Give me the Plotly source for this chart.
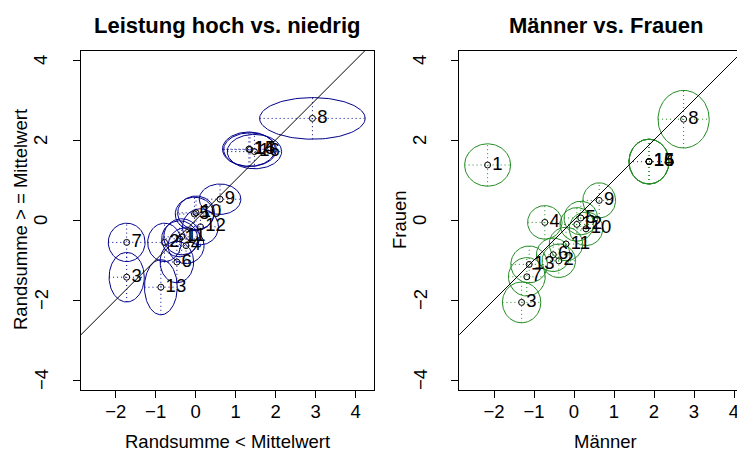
import numpy as np
import plotly.graph_objects as go

# ---------------- data ----------------
items = [str(i) for i in range(1, 17)]

# Panel 1: Leistung hoch vs. niedrig (x = Randsumme < Mittelwert, y = Randsumme >= Mittelwert)
lh_x  = [-0.40, -0.78, -1.725, -0.24, -0.03, -0.47, -1.725, 2.92, 0.61, 0.01, -0.35, 0.12, -0.87, 1.33, 1.36, 1.47]
lh_y  = [-0.47, -0.56, -1.43, -0.64, 0.15, -1.05, -0.56, 2.54, 0.52, 0.18, -0.42, -0.17, -1.68, 1.77, 1.76, 1.71]
lh_rx = [0.45, 0.42, 0.44, 0.45, 0.48, 0.42, 0.46, 1.32, 0.52, 0.46, 0.45, 0.45, 0.41, 0.66, 0.66, 0.68]
lh_ry = [0.45, 0.48, 0.62, 0.45, 0.42, 0.52, 0.48, 0.52, 0.38, 0.42, 0.45, 0.45, 0.69, 0.43, 0.42, 0.43]

# Panel 2: Männer vs. Frauen
mf_x  = [-2.16, -0.38, -1.31, -0.73, 0.17, -0.52, -1.18, 2.74, 0.63, 0.30, -0.20, 0.07, -1.12, 1.875, 1.875, 1.875]
mf_y  = [1.375, -1.02, -2.06, -0.06, 0.05, -0.87, -1.42, 2.52, 0.49, -0.22, -0.60, -0.11, -1.11, 1.46, 1.46, 1.46]
mf_rx = [0.575, 0.42, 0.48, 0.43, 0.42, 0.42, 0.46, 0.64, 0.41, 0.42, 0.42, 0.42, 0.46, 0.50, 0.50, 0.50]
mf_ry = [0.53, 0.42, 0.51, 0.42, 0.42, 0.42, 0.48, 0.72, 0.44, 0.42, 0.42, 0.42, 0.46, 0.56, 0.56, 0.56]

x_ticks = [-2, -1, 0, 1, 2, 3, 4]
y_ticks = [-4, -2, 0, 2, 4]
y_ticklabels = ["\u22124", "\u22122", "0", "2", "4"]
diag = [-10, 10]

titles = ["Leistung hoch vs. niedrig", "Männer vs. Frauen"]
xlabels = ["Randsumme < Mittelwert", "Männer"]
ylabels = ["Randsumme > = Mittelwert", "Frauen"]

FONT = "Liberation Sans, Arial, Helvetica, sans-serif"
OFF = 8  # default page body margin
W, H = 745 - OFF, 459 - OFF

fig = go.Figure()


def add_panel(xs, ys, rxs, rys, color, xa, ya):
    t = np.linspace(0, 2 * np.pi, 120)
    for cx, cy, rx, ry in zip(xs, ys, rxs, rys):
        fig.add_trace(go.Scatter(x=cx + rx * np.cos(t), y=cy + ry * np.sin(t), mode="lines",
                                 line=dict(color=color, width=1), xaxis=xa, yaxis=ya,
                                 hoverinfo="skip"))
    cxs, cys = [], []
    for cx, cy, rx, ry in zip(xs, ys, rxs, rys):
        cxs += [cx - rx, cx + rx, None, cx, cx, None]
        cys += [cy, cy, None, cy - ry, cy + ry, None]
    fig.add_trace(go.Scatter(x=cxs, y=cys, mode="lines",
                             line=dict(color=color, width=1, dash="1px,3px"),
                             xaxis=xa, yaxis=ya, hoverinfo="skip"))
    fig.add_trace(go.Scatter(x=diag, y=diag, mode="lines", line=dict(color="black", width=1),
                             xaxis=xa, yaxis=ya, hoverinfo="skip"))
    fig.add_trace(go.Scatter(x=xs, y=ys, mode="markers+text", text=items,
                             textposition="middle right",
                             textfont=dict(family=FONT, size=18.5, color="black"),
                             marker=dict(symbol="circle-open", size=6, color="black",
                                         line=dict(width=1, color="black")),
                             xaxis=xa, yaxis=ya, cliponaxis=False))


add_panel(lh_x, lh_y, lh_rx, lh_ry, "#00008B", "x", "y")
add_panel(mf_x, mf_y, mf_rx, mf_ry, "#228B22", "x2", "y2")

# plot box geometry (pixels, page coordinates minus body margin)
L1, R1 = 80.7 - OFF, 374.0 - OFF
L2 = 459.3 - OFF
TOP, BOT = 50.7 - OFF, 390.0 - OFF
ydom = [(H - BOT) / H, (H - TOP) / H]

axcommon = dict(showgrid=False, zeroline=False, showline=True, linecolor="black", linewidth=1,
                ticks="outside", ticklen=7, tickwidth=1, tickcolor="black",
                tickfont=dict(family=FONT, size=18.5, color="black"))

fig.update_layout(
    width=W, height=H, margin=dict(l=0, r=0, t=0, b=0),
    paper_bgcolor="white", plot_bgcolor="white", showlegend=False,
    xaxis=dict(domain=[L1 / W, R1 / W], range=[-2.875, 4.46], tickvals=x_ticks, anchor="y",
               mirror=True, ticklabelstandoff=-2, **axcommon),
    yaxis=dict(domain=ydom, range=[-4.25, 4.2325], tickvals=y_ticks, anchor="x",
               mirror=True, showticklabels=False, **axcommon),
    xaxis2=dict(domain=[L2 / W, 1.0], range=[-2.8675, 4.275], tickvals=x_ticks, anchor="y2",
                mirror=True, ticklabelstandoff=-2, **axcommon),
    yaxis2=dict(domain=ydom, range=[-4.25, 4.2325], tickvals=y_ticks, anchor="x2",
                mirror=False, showticklabels=False, **axcommon),
)

centers = [(L1 + R1) / 2, (L2 + 752 - OFF) / 2]
for i in range(2):
    cx = centers[i] / W
    fig.add_annotation(text="<b>%s</b>" % titles[i], x=cx, y=1 - (25 - OFF) / H, xref="paper", yref="paper",
                       showarrow=False, xanchor="center", yanchor="middle",
                       font=dict(family=FONT, size=22, color="black"))
    fig.add_annotation(text=xlabels[i], x=cx, y=1 - (441 - OFF) / H, xref="paper", yref="paper",
                       showarrow=False, xanchor="center", yanchor="middle",
                       font=dict(family=FONT, size=18.5, color="black"))
    lx = [20, 399][i] - OFF
    fig.add_annotation(text=ylabels[i], x=lx / W, y=1 - (220 - OFF) / H, xref="paper", yref="paper",
                       showarrow=False, xanchor="center", yanchor="middle", textangle=-90,
                       font=dict(family=FONT, size=18.5, color="black"))
    # y tick labels, rotated like R's default (las = 0), placed at the axis' tick values
    tx = [41, 420][i] - OFF
    yref = ["y", "y2"][i]
    for v, lab in zip(y_ticks, y_ticklabels):
        fig.add_annotation(text=lab, x=tx / W, y=v, xref="paper", yref=yref,
                           showarrow=False, xanchor="center", yanchor="middle", textangle=-90,
                           font=dict(family=FONT, size=18.5, color="black"))

fig.write_html("out.html")
